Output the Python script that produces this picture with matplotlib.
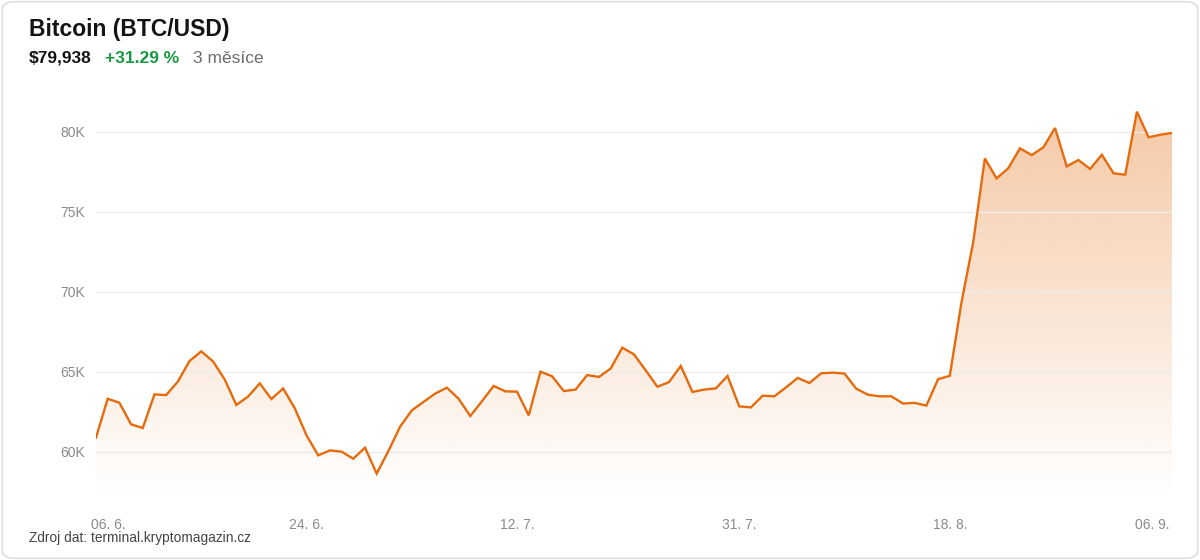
import matplotlib
matplotlib.use("Agg")
import matplotlib.pyplot as plt
import matplotlib.transforms as mtransforms
from matplotlib.patches import FancyBboxPatch
from matplotlib.ticker import FuncFormatter
import numpy as np

plt.rcParams["font.family"] = ["Liberation Sans", "DejaVu Sans"]

# Denní ceny BTC/USD (v tisících USD), 06. 6. – 06. 9.
ceny_k = [
    60.90, 63.33, 63.08, 61.73, 61.50, 63.60, 63.56, 64.40, 65.69, 66.29,
    65.67, 64.54, 62.94, 63.46, 64.29, 63.31, 63.97, 62.73, 61.04, 59.79,
    60.10, 60.02, 59.58, 60.27, 58.65, 60.06, 61.58, 62.60, 63.13, 63.65,
    64.02, 63.33, 62.25, 63.17, 64.13, 63.79, 63.77, 62.29, 65.02, 64.73,
    63.81, 63.90, 64.81, 64.69, 65.21, 66.52, 66.10, 65.10, 64.08, 64.37,
    65.38, 63.75, 63.90, 63.98, 64.75, 62.85, 62.79, 63.52, 63.48, 64.04,
    64.63, 64.31, 64.92, 64.96, 64.90, 63.96, 63.58, 63.48, 63.48, 63.03,
    63.07, 62.90, 64.55, 64.76, 69.35, 73.10, 78.35, 77.10, 77.73, 78.98,
    78.56, 79.04, 80.25, 77.85, 78.25, 77.69, 78.58, 77.42, 77.33, 81.27,
    79.67, 79.83, 79.938,
]
ceny = [c * 1000 for c in ceny_k]
dny = list(range(len(ceny)))

tick_idx = [0, 18, 36, 55, 73, 92]
tick_labels = ["06. 6.", "24. 6.", "12. 7.", "31. 7.", "18. 8.", "06. 9."]
y_ticks = [60000, 65000, 70000, 75000, 80000]

barva = "#e56b0c"
ymin, ymax = 57312, 82000

fig = plt.figure(figsize=(12, 5.6), dpi=100)
fig.patch.set_facecolor("white")

# Rámeček karty
fig.patches.append(FancyBboxPatch((0.002, 0.003), 0.996, 0.994,
                                  boxstyle="round,pad=0,rounding_size=0.012",
                                  transform=fig.transFigure, facecolor="none",
                                  edgecolor="#dedede", linewidth=1.2, zorder=-1))

ax = fig.add_axes([96 / 1200, 1 - 495 / 560, 1076 / 1200, 395 / 560])
ax.set_facecolor("none")
ax.set_xlim(0, len(ceny) - 1)
ax.set_ylim(ymin, ymax)

# Přechodová výplň pod čarou
grad = np.zeros((256, 1, 4))
rgb = matplotlib.colors.to_rgb(barva)
grad[:, 0, 0], grad[:, 0, 1], grad[:, 0, 2] = rgb
grad[:, 0, 3] = np.linspace(0.38, 0.0, 256)
im = ax.imshow(grad, extent=[0, len(ceny) - 1, ymin, ymax], aspect="auto",
               origin="upper", zorder=1, interpolation="bilinear")
poly = ax.fill_between(dny, ceny, ymin, color="none", linewidth=0)
im.set_clip_path(poly.get_paths()[0], transform=ax.transData)

ax.plot(dny, ceny, color=barva, linewidth=1.7, zorder=3, solid_joinstyle="miter")

ax.set_yticks(y_ticks)
ax.yaxis.set_major_formatter(FuncFormatter(lambda v, p: f"{int(v / 1000)}K"))
ax.set_xticks(tick_idx)
ax.set_xticklabels(tick_labels)
ax.grid(axis="y", color="#ececec", linewidth=1.0, zorder=0)
ax.tick_params(axis="both", length=0, labelsize=10, labelcolor="#8a8a8a")
ax.tick_params(axis="y", pad=8)
ax.tick_params(axis="x", pad=16.5)
for s in ax.spines.values():
    s.set_visible(False)

# krajní popisky posunout dovnitř
lbls = ax.get_xticklabels()
lbls[0].set_transform(lbls[0].get_transform() + mtransforms.ScaledTranslation(0.12, 0, fig.dpi_scale_trans))
lbls[-1].set_transform(lbls[-1].get_transform() + mtransforms.ScaledTranslation(-0.20, 0, fig.dpi_scale_trans))

# Nadpis a souhrn
fig.text(29 / 1200, 1 - 36 / 560, "Bitcoin (BTC/USD)", fontsize=16.5,
         fontweight="bold", color="#141414", va="baseline")
fig.text(29 / 1200, 1 - 62.5 / 560, "$79,938", fontsize=12.5,
         fontweight="bold", color="#141414", va="baseline")
fig.text(105 / 1200, 1 - 63 / 560, "+31.29 %", fontsize=12.5,
         fontweight="bold", color="#16993f", va="baseline")
fig.text(193 / 1200, 1 - 63 / 560, "3 měsíce", fontsize=12.5,
         color="#6b6b6b", va="baseline")

fig.text(29 / 1200, 1 - 542 / 560, "Zdroj dat: terminal.kryptomagazin.cz",
         fontsize=9.9, color="#444444", va="baseline")

fig.savefig("out.png", dpi=100, facecolor="white")
